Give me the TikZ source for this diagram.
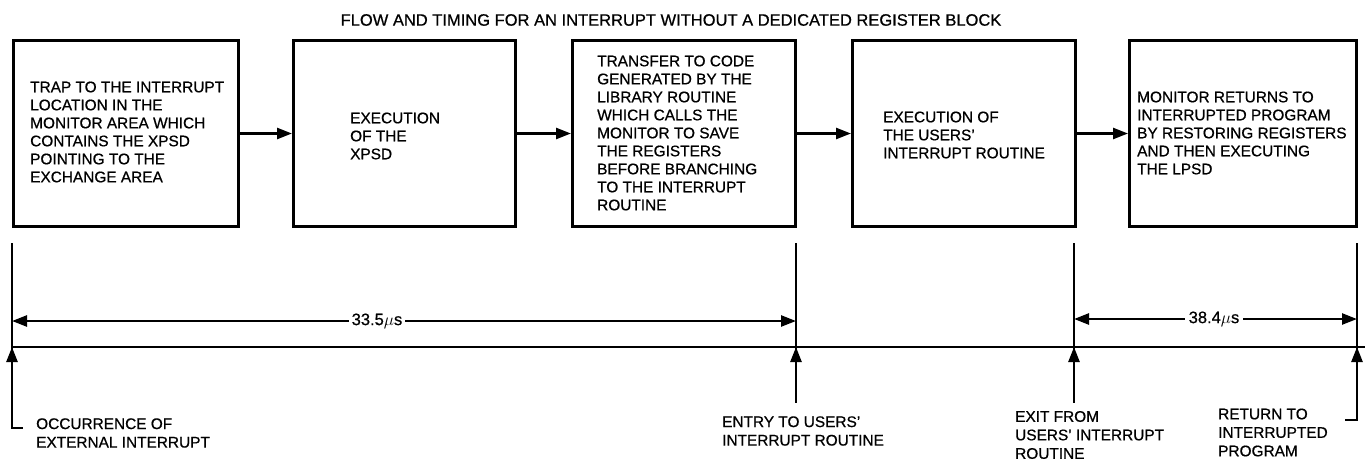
\documentclass[tikz,border=0pt]{standalone}
\usepackage{fontspec}
\setmainfont{Liberation Sans}[FakeBold=0.7]
\usetikzlibrary{arrows.meta}
\begin{document}
\begin{tikzpicture}[x=1pt,y=-1pt,
  box/.style={draw, line width=3pt, minimum width=#1, minimum height=186pt, inner sep=0pt},
  box/.default=225pt,
  boxtext/.style={anchor=west, align=left, inner sep=0pt, font=\fontsize{15.4}{18}\selectfont},
  lowtext/.style={anchor=west, align=left, inner sep=0pt, font=\fontsize{15.4}{18.5}\selectfont},
  titletext/.style={inner sep=0pt, font=\fontsize{16.5}{18}\selectfont},
  dimtext/.style={inner sep=0pt, font=\fontsize{16.5}{18}\selectfont},
  flow/.style={line width=2.5pt, -{Triangle[length=15pt,width=11pt]}},
  dimline/.style={line width=2.5pt, -{Triangle[length=15pt,width=11pt]}},
  plainline/.style={line width=2.5pt},
  uparrow/.style={line width=2.5pt, -{Triangle[length=15pt,width=11pt]}}
]
\useasboundingbox (0,0) rectangle (1367,463);

% title
\node[titletext] (title) at (671,20) {FLOW AND TIMING FOR AN INTERRUPT WITHOUT A DEDICATED REGISTER BLOCK};

% boxes
\node[box=225pt] (b1) at (126,133.5) {};
\node[box=222pt] (b2) at (404.5,133.5) {};
\node[box=223pt] (b3) at (684,133.5) {};
\node[box=223pt] (b4) at (964,133.5) {};
\node[box=227pt] (b5) at (1243,133.5) {};

% box texts
\node[boxtext] (t1) at (30,132) {TRAP TO THE INTERRUPT\\LOCATION IN THE\\MONITOR AREA WHICH\\CONTAINS THE XPSD\\POINTING TO THE\\EXCHANGE AREA};
\node[boxtext] (t2) at (350,136) {EXECUTION\\OF THE\\XPSD};
\node[boxtext] (t3) at (597,133) {TRANSFER TO CODE\\GENERATED BY THE\\LIBRARY ROUTINE\\WHICH CALLS THE\\MONITOR TO SAVE\\THE REGISTERS\\BEFORE BRANCHING\\TO THE INTERRUPT\\ROUTINE};
\node[boxtext] (t4) at (883,135) {EXECUTION OF\\THE USERS'\\INTERRUPT ROUTINE};
\node[boxtext] (t5) at (1137,133) {MONITOR RETURNS TO\\INTERRUPTED PROGRAM\\BY RESTORING REGISTERS\\AND THEN EXECUTING\\THE LPSD};

% flow arrows
\draw[flow] (b1) -- (b2);
\draw[flow] (b2) -- (b3);
\draw[flow] (b3) -- (b4);
\draw[flow] (b4) -- (b5);

% timing coordinates
\coordinate (lt) at (12,243);
\coordinate (lb) at (12,428);
\coordinate (lh) at (23,428);
\coordinate (tl0) at (12,347);
\coordinate (tl1) at (1365,347);
\coordinate (et) at (796,243);
\coordinate (eb) at (796,403);
\coordinate (xt) at (1074,243);
\coordinate (xb) at (1074,403);
\coordinate (rt) at (1357,243);
\coordinate (rb) at (1357,420);
\coordinate (rh) at (1345,420);

% vertical markers and timeline
\draw[plainline] (lt) -- (lb) -- (lh);
\draw[plainline] (et) -- (eb);
\draw[plainline] (xt) -- (xb);
\draw[plainline] (rt) -- (rb) -- (rh);
\draw[plainline] (tl0) -- (tl1);

% upward arrows onto the timeline
\coordinate (u0) at (12,366);
\coordinate (u0t) at (12,347);
\coordinate (u1) at (796,366);
\coordinate (u1t) at (796,347);
\coordinate (u2) at (1074,366);
\coordinate (u2t) at (1074,347);
\coordinate (u3) at (1357,366);
\coordinate (u3t) at (1357,347);
\draw[uparrow] (u0) -- (u0t);
\draw[uparrow] (u1) -- (u1t);
\draw[uparrow] (u2) -- (u2t);
\draw[uparrow] (u3) -- (u3t);

% dimension 33.5 us
\node[dimtext, inner xsep=3pt] (d1) at (377,321) {33.5$\mu$s};
\coordinate (d1l) at (12,321);
\coordinate (d1r) at (796,321);
\draw[dimline] (d1.west) -- (d1l);
\draw[dimline] (d1.east) -- (d1r);

% dimension 38.4 us
\node[dimtext, inner xsep=4pt] (d2) at (1214,319) {38.4$\mu$s};
\coordinate (d2l) at (1074,319);
\coordinate (d2r) at (1357,319);
\draw[dimline] (d2.west) -- (d2l);
\draw[dimline] (d2.east) -- (d2r);

% bottom labels
\node[lowtext] (l1) at (36,433) {OCCURRENCE OF\\EXTERNAL INTERRUPT};
\node[lowtext] (l2) at (722,431) {ENTRY TO USERS'\\INTERRUPT ROUTINE};
\node[lowtext] (l3) at (1015,435) {EXIT FROM\\USERS' INTERRUPT\\ROUTINE};
\node[lowtext] (l4) at (1218,432.5) {RETURN TO\\INTERRUPTED\\PROGRAM};
\end{tikzpicture}
\end{document}
